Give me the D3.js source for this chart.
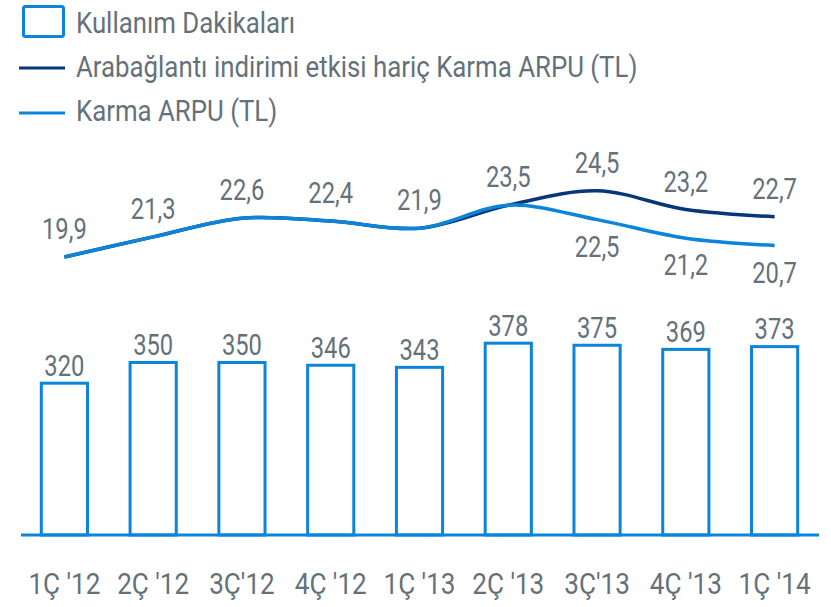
<!DOCTYPE html>
<html>
<head>
<meta charset="utf-8">
<script src="https://cdn.jsdelivr.net/npm/d3@7"></script>
<style>
  body { margin: 0; background: #fff; }
  text { font-family: Roboto, "Noto Sans", sans-serif; fill: #65717a; }
</style>
</head>
<body>
<script>
const width = 831;
const height = 607;

const quarters = ["1Ç '12", "2Ç '12", "3Ç'12", "4Ç '12", "1Ç '13", "2Ç '13", "3Ç'13", "4Ç '13", "1Ç '14"];
const minutes = [320, 350, 350, 346, 343, 378, 375, 369, 373];
const arpuExcl = [19.9, 21.3, 22.6, 22.4, 21.9, 23.5, 24.5, 23.2, 22.7];
const arpu = [19.9, 21.3, 22.6, 22.4, 21.9, 23.5, 22.5, 21.2, 20.7];
const legendLabels = ["Kullanım Dakikaları", "Arabağlantı indirimi etkisi hariç Karma ARPU (TL)", "Karma ARPU (TL)"];

const lightBlue = "#0b84d9";
const darkBlue = "#07367a";
const fmt = v => String(v).replace(".", ",");

const svg = d3.select("body")
  .append("svg")
  .attr("width", width)
  .attr("height", height);

const x = d3.scaleBand()
  .domain(quarters)
  .range([20, 819])
  .paddingInner(0.48)
  .paddingOuter(0.24);

const yBar = d3.scaleLinear()
  .domain([100, 400])
  .range([535, 328]);

const yLine = d3.scaleLinear()
  .domain([18, 26])
  .range([284.4, 169.2]);

// condensed look: squeeze text horizontally
function label(g, tx, ty, txt, size, sq) {
  g.append("text")
    .attr("transform", `translate(${tx},${ty}) scale(${sq},1)`)
    .attr("text-anchor", "middle")
    .attr("font-size", size)
    .text(txt);
}

// bars
svg.append("g")
  .selectAll("rect")
  .data(minutes)
  .enter()
  .append("rect")
  .attr("x", (d, i) => x(quarters[i]))
  .attr("y", d => yBar(d))
  .attr("width", x.bandwidth())
  .attr("height", d => 535 - yBar(d))
  .attr("fill", "none")
  .attr("stroke", lightBlue)
  .attr("stroke-width", 3);

// baseline
svg.append("line")
  .attr("x1", 21).attr("x2", 819)
  .attr("y1", 535).attr("y2", 535)
  .attr("stroke", lightBlue)
  .attr("stroke-width", 3);

const bars = svg.append("g");
minutes.forEach((d, i) => {
  label(bars, x(quarters[i]) + x.bandwidth() / 2, yBar(d) - 7.5, d, 29, 0.82);
});

// x labels
const ax = svg.append("g");
quarters.forEach(q => label(ax, x(q) + x.bandwidth() / 2, 594, q, 30, 0.87));

// lines
const line = d3.line()
  .x((d, i) => x(quarters[i]) + x.bandwidth() / 2)
  .y(d => yLine(d))
  .curve(d3.curveCatmullRom);

svg.append("path")
  .attr("d", line(arpuExcl))
  .attr("fill", "none")
  .attr("stroke", darkBlue)
  .attr("stroke-width", 3.5);

svg.append("path")
  .attr("d", line(arpu))
  .attr("fill", "none")
  .attr("stroke", lightBlue)
  .attr("stroke-width", 3.5);

const lbl = svg.append("g");
arpuExcl.forEach((d, i) => {
  label(lbl, x(quarters[i]) + x.bandwidth() / 2, yLine(d) - 18, fmt(d), 29, 0.82);
});
arpu.forEach((d, i) => {
  if (d !== arpuExcl[i]) {
    label(lbl, x(quarters[i]) + x.bandwidth() / 2, yLine(d) + 37, fmt(d), 29, 0.82);
  }
});

// legend
const legend = svg.append("g");
legend.append("rect")
  .attr("x", 23.5).attr("y", 6.5)
  .attr("width", 40).attr("height", 30)
  .attr("rx", 2)
  .attr("fill", "none")
  .attr("stroke", lightBlue)
  .attr("stroke-width", 3);
legend.append("line")
  .attr("x1", 19).attr("x2", 65).attr("y1", 68).attr("y2", 68)
  .attr("stroke", darkBlue).attr("stroke-width", 3);
legend.append("line")
  .attr("x1", 19).attr("x2", 65).attr("y1", 113).attr("y2", 113)
  .attr("stroke", lightBlue).attr("stroke-width", 3);

legendLabels.forEach((t, i) => {
  legend.append("text")
    .attr("transform", `translate(76,${33 + i * 44}) scale(0.89,1)`)
    .attr("font-size", 29)
    .text(t);
});
</script>
</body>
</html>
